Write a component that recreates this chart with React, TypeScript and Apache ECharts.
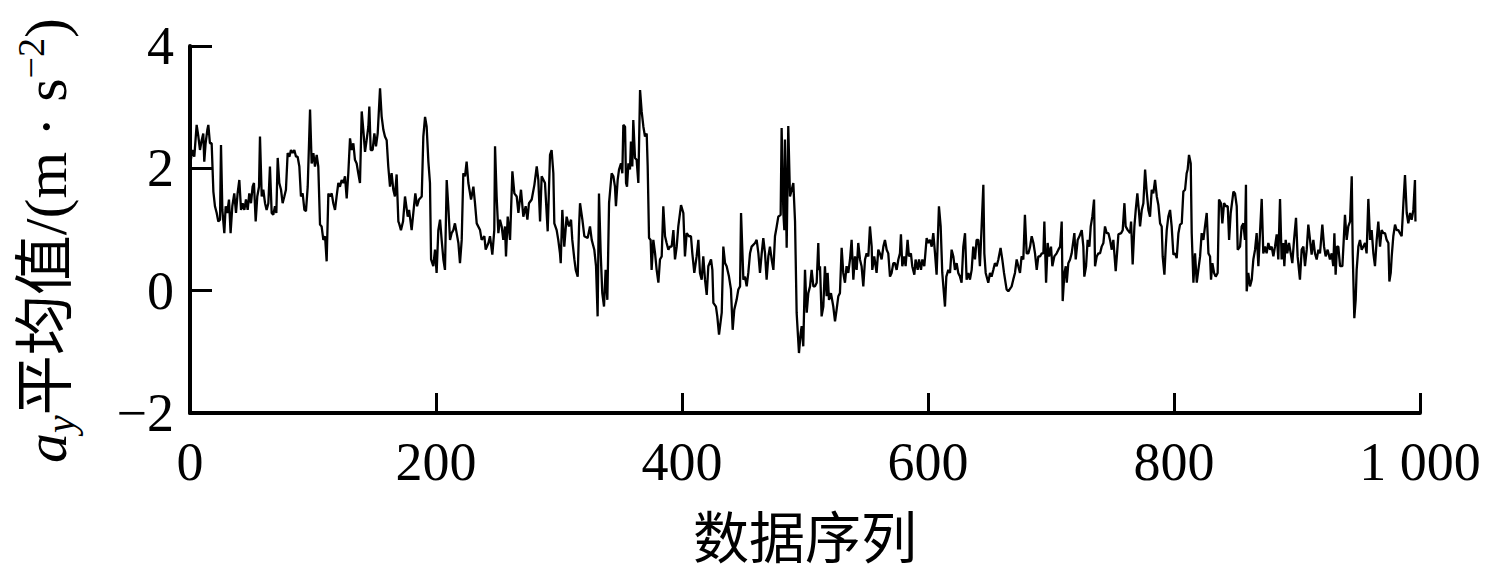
import React, { useEffect, useRef } from "react";
import * as echarts from "echarts";

// x-axis tick values and y-axis tick values
const xTicks = [0, 200, 400, 600, 800, 1000];
const yTicks = [-2, 0, 2, 4];

// a_y mean value: [sample index, value]
const ayMeanPart1: [number, number][] = [
  [0, 2.05], [1.9, 2.3], [3.5, 2.19], [5.4, 2.71], [6.8, 2.52], [8.1, 2.3], [9.5, 2.46], [10.8, 2.57],
  [11.6, 2.11], [12.7, 2.41], [14.1, 2.63], [14.9, 2.71], [16.2, 2.41], [17.6, 2.41], [19.0, 1.62],
  [20.3, 1.38], [21.7, 1.27], [23.0, 1.13], [24.4, 1.16], [25.2, 2.38], [26.3, 1.32], [27.9, 0.94],
  [29.0, 1.38], [30.3, 1.27], [31.7, 1.49], [33.0, 0.94], [34.4, 1.38], [36.0, 1.59], [37.4, 1.27],
  [38.7, 1.59], [40.1, 1.81], [41.5, 1.32], [42.8, 1.43], [44.2, 1.32], [45.5, 1.49], [46.9, 1.32],
  [48.2, 1.59], [49.6, 1.43], [50.9, 1.7], [52.0, 1.76], [53.4, 1.13], [54.7, 1.54], [56.1, 1.7],
  [56.9, 2.52], [58.3, 1.54], [59.6, 1.65], [61.0, 1.43], [62.3, 1.32], [63.7, 1.43], [65.0, 2.03],
  [66.4, 1.27], [67.7, 1.24], [69.1, 1.38], [70.2, 1.27], [71.3, 2.17], [72.6, 1.76], [74.0, 1.65],
  [75.3, 1.43], [76.7, 1.54], [78.0, 1.65], [79.4, 2.25], [80.8, 2.19], [82.1, 2.3], [83.5, 2.25],
  [84.8, 2.3], [86.2, 2.19], [87.5, 2.19], [88.9, 2.03], [90.2, 1.54], [91.6, 1.59], [93.0, 1.32],
  [94.3, 1.3], [95.7, 1.7], [97.6, 2.96], [98.9, 2.08], [100.3, 2.25], [101.6, 2.03], [103.0, 2.22],
  [104.3, 2.03], [105.7, 1.08], [107.0, 1.05], [108.4, 0.83], [109.8, 0.89], [111.1, 0.48], [112.5, 1.59],
  [113.8, 1.54], [115.2, 1.59], [116.5, 1.43], [117.9, 1.32], [119.2, 1.54], [120.6, 1.76], [121.9, 1.7],
  [123.3, 1.81], [124.7, 1.76], [126.0, 1.87], [127.4, 1.51], [128.7, 1.92], [130.1, 2.49], [131.4, 2.3],
  [132.8, 2.41], [134.1, 2.14], [135.5, 2.08], [136.8, 1.92], [138.2, 1.76], [139.6, 2.93], [140.9, 2.63],
  [142.3, 2.27], [143.6, 2.46], [145.0, 2.68], [145.8, 3.01], [146.9, 2.3], [148.5, 2.3], [149.9, 2.57],
  [151.2, 2.36], [152.6, 2.57], [154.5, 3.31], [155.8, 2.85], [157.2, 2.63], [158.5, 2.52], [159.9, 2.46],
  [161.2, 2.03], [162.6, 1.7], [163.9, 1.92], [165.3, 1.65], [166.6, 1.54], [168.0, 1.9], [169.4, 1.13],
];

const ayMeanPart2: [number, number][] = [
  [170.0, 1.1], [171.5, 0.99], [173.2, 1.13], [174.8, 1.54], [177.0, 1.21], [178.1, 1.32], [180.2, 0.99],
  [182.1, 1.38], [183.2, 1.59], [184.6, 1.38], [186.2, 1.49], [188.4, 1.54], [189.7, 2.52], [191.1, 2.84],
  [192.4, 2.68], [193.8, 2.11], [195.1, 1.76], [196.0, 0.51], [197.8, 0.4], [199.2, 0.67], [200.5, 0.29],
  [201.9, 0.99], [203.3, 1.16], [204.6, 0.83], [206.0, 0.51], [207.3, 0.34], [208.7, 1.81], [210.0, 1.38],
  [211.4, 0.83], [212.7, 0.94], [214.1, 0.99], [215.4, 1.1], [216.8, 0.94], [218.2, 0.78], [219.5, 0.45],
  [220.9, 0.83], [222.2, 1.92], [223.6, 1.87], [224.9, 2.11], [226.3, 1.76], [228.5, 1.49], [230.4, 1.7],
  [231.7, 1.43], [233.1, 1.1], [235.8, 0.99], [237.1, 0.83], [239.3, 0.89], [240.4, 0.67], [242.6, 0.78],
  [243.9, 0.89], [245.8, 0.59], [247.4, 0.99], [248.0, 2.36], [249.3, 1.54], [250.7, 0.94], [252.0, 1.16],
  [253.4, 1.05], [254.7, 0.83], [256.1, 1.05], [256.9, 0.56], [258.3, 1.21], [260.2, 0.83], [262.1, 1.95],
  [263.7, 1.59], [265.6, 1.54], [267.0, 1.27], [269.1, 1.65], [271.0, 1.21], [272.9, 1.38], [274.3, 1.16],
  [275.6, 1.43], [277.8, 1.49], [280.0, 1.73], [281.9, 2.03], [283.2, 1.81], [284.6, 1.13], [285.9, 1.87],
  [288.6, 1.76], [290.8, 0.97], [291.9, 1.7], [292.7, 2.22], [294.0, 2.3], [295.4, 1.92], [296.2, 1.1],
  [298.1, 0.99], [299.4, 0.83], [300.8, 0.61], [301.4, 0.45], [302.7, 1.32], [304.3, 0.72], [306.2, 1.21],
  [308.1, 1.05], [309.8, 1.16], [310.8, 0.83], [312.5, 0.51], [313.6, 0.34], [315.2, 0.23], [316.3, 1.05],
  [317.1, 1.43], [319.0, 1.16], [320.6, 0.89], [323.3, 0.86], [325.2, 1.05], [326.6, 0.83], [328.7, 0.67],
  [330.1, 0.4], [331.4, -0.42], [332.5, 1.59], [333.9, 0.61], [335.2, -0.04], [336.6, -0.26], [337.9, 0.34],
  [339.3, -0.15], [340.7, 1.43],
];

const ayMeanPart3: [number, number][] = [
  [342.8, 1.92], [344.2, 1.87], [345.5, 1.7], [346.3, 1.38], [347.7, 1.81], [348.8, 1.98], [350.4, 2.08],
  [351.5, 1.92], [352.3, 2.71], [353.7, 2.68], [354.5, 1.76], [355.3, 1.7], [356.4, 2.08], [357.7, 1.98],
  [358.5, 2.44], [359.6, 2.03], [360.4, 2.79], [361.8, 2.17], [363.1, 2.14], [364.5, 1.76], [365.9, 3.28],
  [367.2, 2.93], [368.6, 2.68], [369.9, 2.52], [371.3, 2.57], [372.1, 2.03], [373.2, 0.86], [374.5, 0.83],
  [375.3, 0.34], [376.7, 0.83], [378.1, 0.61], [379.4, 0.34], [380.8, 0.13], [382.1, 0.51], [383.5, 0.56],
  [384.8, 1.38], [386.2, 0.89], [387.5, 0.78], [388.9, 0.67], [390.2, 0.72], [391.6, 0.72], [393.0, 0.99],
  [394.3, 0.51], [395.7, 0.72], [397.0, 1.05], [399.2, 1.4], [401.1, 1.27], [402.4, 0.56], [403.8, 0.94],
  [405.7, 0.89], [407.3, 0.89], [408.4, 0.61], [410.0, 0.29], [411.9, 0.56], [413.3, 0.83], [414.6, 0.29],
  [416.0, 0.18], [417.3, 0.56], [418.7, 0.18], [420.1, -0.07], [421.4, 0.4], [423.6, 0.51], [424.7, 0.34],
  [425.5, -0.2], [427.6, -0.26], [428.7, -0.42], [430.1, -0.72], [432.3, -0.36], [433.6, 0.72], [435.0, 0.45],
  [436.3, 0.4], [438.2, 0.23], [439.8, 0.02], [441.2, -0.64], [442.5, -0.31], [444.4, -0.15], [445.8, 0.02],
  [447.2, 0.07], [448.0, 1.27], [449.9, 0.18], [451.2, 0.23], [452.6, 0.07], [453.9, 0.29], [455.3, 0.61],
  [456.6, 0.72], [459.4, 0.78], [460.7, 0.83], [462.1, 0.61], [463.4, 0.29], [464.8, 0.61], [466.1, 0.86],
  [467.5, 0.61], [468.8, 0.18], [470.2, 0.56], [471.5, 0.72], [472.9, 0.51], [474.3, 0.34], [475.6, 0.89],
  [477.0, 1.05], [478.3, 1.21], [480.2, 1.24], [481.0, 2.66], [482.4, 1.27], [483.2, 0.99], [483.7, 2.47],
  [485.1, 0.7], [486.4, 2.69], [487.8, 1.54], [489.2, 1.65], [490.5, 1.76], [491.9, 1.13], [493.2, -0.36],
  [495.1, -1.02], [496.5, -0.69], [497.3, -0.58], [498.6, -0.91], [500.0, 0.34], [501.4, -0.36], [502.7, -0.04],
  [504.1, 0.07], [505.4, 0.34], [506.8, 0.07], [508.1, 0.07], [509.5, 0.13], [510.8, 0.78],
];

const ayMeanPart4: [number, number][] = [
  [511.4, 0.34], [512.2, 0.4], [513.5, -0.42], [514.9, -0.26], [516.2, 0.4], [517.6, -0.09], [518.4, 0.29],
  [519.5, -0.15], [521.1, -0.04], [523.0, -0.26], [524.4, -0.5], [525.7, -0.31], [527.1, -0.09], [528.4, -0.04],
  [529.8, 0.7], [531.1, 0.29], [532.5, 0.13], [533.8, 0.4], [535.2, 0.29], [536.6, 0.51], [537.9, 0.83],
  [539.3, 0.18], [540.6, 0.56], [542.0, 0.34], [543.3, 0.78], [544.7, 0.51], [546.0, 0.4], [547.4, 0.07],
  [548.8, 0.51], [550.1, 0.61], [551.5, 0.56], [552.8, 1.05], [554.2, 0.72], [554.7, 0.34], [556.3, 0.56],
  [558.2, 0.29], [559.6, 0.67], [560.9, 0.61], [562.3, 0.51], [563.7, 0.72], [565.0, 0.83], [566.4, 0.67],
  [567.7, 0.61], [569.1, 0.23], [570.4, 0.29], [571.8, 0.45], [573.1, 0.45], [574.5, 0.34], [575.9, 0.51],
  [577.2, 0.61], [578.0, 0.92], [579.1, 0.4], [580.7, 0.56], [581.8, 0.4], [583.4, 0.83], [584.5, 0.56],
  [586.1, 0.61], [587.2, 0.4], [588.9, 0.26], [589.9, 0.51], [591.6, 0.34], [592.7, 0.51], [594.3, 0.34],
  [595.4, 0.51], [597.0, 0.4], [598.9, 0.86], [600.2, 0.78], [601.6, 0.83], [603.0, 0.72], [604.3, 0.94],
  [605.7, 0.61], [607.0, 0.26], [608.9, 1.38], [610.3, 1.05], [611.6, 0.29], [613.8, -0.26], [614.9, 0.23],
  [616.5, 0.34], [617.9, 0.29], [619.2, 0.67], [620.6, 0.56], [621.9, 0.34], [623.3, 0.45], [624.6, 0.29],
  [626.0, 0.23], [627.3, 0.13], [628.7, 0.72], [630.1, 0.94], [631.4, 0.18], [632.8, 0.29], [634.1, 0.18],
  [635.5, 0.34], [636.8, 0.72], [638.2, 0.51], [639.5, 0.83], [640.9, 0.83], [642.2, 0.4], [643.6, 1.05],
  [645.0, 1.73], [645.8, 0.61], [646.9, 0.29], [649.0, 0.13], [650.4, 0.29], [651.7, 0.23], [653.1, 0.34],
  [654.4, 0.45], [655.8, 0.4], [657.2, 0.51], [659.0, 0.7], [660.4, 0.51], [661.8, 0.29], [663.9, 0.02],
  [665.3, -0.01], [668.0, 0.07], [669.3, 0.18], [670.7, 0.29], [672.1, 0.51], [673.4, 0.4], [674.8, 0.29],
  [676.1, 0.56], [677.5, 0.51], [678.8, 1.24], [680.2, 0.61],
];

const ayMeanPart5: [number, number][] = [
  [681.6, 0.61], [683.0, 0.72], [684.3, 0.89], [685.7, 0.78], [687.0, 0.61], [688.4, 0.34], [689.7, 0.56],
  [691.1, 0.56], [692.5, 0.61], [693.8, 0.61], [694.6, 1.13], [696.0, 0.13], [697.3, 0.78], [698.4, 0.56],
  [700.0, 0.72], [701.1, 0.4], [702.7, 0.56], [704.6, 0.61], [706.0, 0.67], [707.4, 0.72], [708.7, 1.13],
  [709.5, -0.17], [710.9, 0.29], [712.0, 0.4], [712.8, 0.13], [714.1, 0.45], [715.5, 0.51], [716.8, 0.61],
  [719.0, 0.94], [720.1, 0.51], [721.7, 0.83], [723.1, 0.89], [725.0, 0.99], [726.3, 0.72], [727.1, 0.23],
  [728.5, 0.4], [729.8, 0.83], [731.2, 0.72], [732.3, 1.05], [733.6, 1.21], [735.0, 1.49], [735.8, 0.4],
  [737.2, 0.56], [738.5, 0.61], [739.9, 0.61], [741.2, 0.72], [742.6, 0.78], [743.9, 1.05], [745.3, 0.94],
  [746.7, 0.94], [748.0, 0.83], [749.4, 0.67], [750.7, 0.83], [752.6, 0.32], [753.7, 0.61], [754.8, 0.92],
  [757.0, 0.94], [758.3, 0.99], [759.7, 1.43], [760.7, 1.05], [762.4, 0.99], [764.3, 0.94], [765.1, 1.13],
  [766.4, 0.43], [767.8, 1.05], [768.9, 1.32], [770.2, 1.59], [771.6, 1.27], [772.4, 1.05], [773.8, 1.32],
  [775.1, 1.43], [776.5, 1.98], [777.8, 1.62], [779.2, 1.32], [780.5, 1.21], [781.9, 1.65], [783.2, 1.59],
  [784.6, 1.81], [786.0, 1.54], [787.3, 1.4], [788.7, 1.1], [790.0, 1.05], [790.8, 0.56], [792.2, 0.26],
  [793.3, 0.72], [794.1, 0.99], [795.4, 1.21], [796.8, 1.32], [798.1, 1.05], [799.5, 0.59], [800.9, 0.61],
  [802.2, 0.53], [803.6, 0.94], [804.9, 1.08], [806.3, 1.1], [807.6, 1.62], [809.0, 1.65], [810.3, 1.92],
  [811.1, 1.98], [812.2, 2.22], [813.6, 2.08], [814.4, 0.94], [815.8, 0.13], [817.1, 0.61], [818.5, 0.13],
  [819.8, 0.34], [821.2, 0.56], [822.5, 0.94], [823.9, 0.83], [825.2, 1.05], [826.6, 1.27], [828.0, 0.61],
  [829.3, 0.56], [830.1, 0.18], [831.2, 0.45], [832.6, 0.29], [833.9, 0.23], [835.5, 0.29], [836.6, 1.49],
  [838.2, 1.43], [839.3, 1.1], [840.7, 1.43], [842.3, 1.38], [843.7, 1.38], [844.8, 0.83], [846.1, 1.27],
  [847.5, 1.49], [848.3, 1.62], [849.6, 1.59], [851.0, 1.38], [851.8, 0.67],
];

const ayMeanPart6: [number, number][] = [
  [853.7, 0.72], [855.0, 1.05], [856.4, 1.1], [857.7, 0.83], [858.5, 1.73], [859.1, -0.01], [860.4, 0.29],
  [861.8, 0.07], [863.2, 0.18], [864.5, 0.51], [865.9, 0.67], [867.2, 0.94], [868.6, 0.4], [869.9, 0.94],
  [871.3, 1.5], [872.6, 0.61], [874.0, 0.72], [875.3, 0.61], [876.7, 0.78], [878.1, 0.67], [879.4, 0.72],
  [880.8, 0.56], [882.1, 0.72], [883.5, 0.92], [884.8, 0.51], [886.2, 1.5], [887.5, 0.51], [888.9, 0.78],
  [889.7, 0.4], [890.8, 0.83], [892.1, 0.61], [893.5, 0.78], [894.9, 0.61], [896.2, 0.45], [897.6, 0.83],
  [899.2, 1.19], [900.5, 0.56], [902.4, 0.18], [903.8, 0.67], [905.2, 0.72], [906.5, 0.4], [907.9, 0.67],
  [909.2, 1.08], [910.6, 0.83], [911.9, 0.59], [913.3, 0.83], [914.6, 0.61], [916.0, 0.51], [917.4, 0.67],
  [918.7, 0.61], [920.6, 1.08], [922.0, 0.72], [923.3, 0.56], [924.9, 0.67], [926.8, 0.51], [928.2, 0.61],
  [929.5, 0.4], [930.4, 0.94], [931.4, 0.26], [932.5, 0.72], [933.6, 0.72], [935.0, 0.4], [936.9, 0.4],
  [938.0, 0.83], [939.0, 1.24], [940.4, 0.83], [941.7, 1.05], [943.1, 1.13], [944.5, 1.87], [945.3, 0.61],
  [946.6, -0.45], [947.7, -0.15], [948.5, 0.34], [949.9, 0.72], [951.2, 0.83], [952.6, 0.67], [953.9, 0.72],
  [955.3, 0.78], [956.6, 0.61], [958.0, 1.5], [959.4, 0.83], [960.7, 0.99], [962.1, 0.61], [963.4, 0.4],
  [964.8, 0.83], [966.1, 1.13], [967.5, 0.72], [968.8, 0.99], [970.2, 0.94], [971.6, 0.94], [972.9, 0.83],
  [974.3, 0.78], [975.1, 0.15], [976.2, 0.29], [977.0, 0.56], [978.3, 0.89], [979.7, 1.08], [981.0, 0.99],
  [982.4, 0.99], [983.7, 0.94], [985.1, 0.89], [986.5, 1.43], [987.8, 1.89], [989.2, 1.27], [990.5, 1.1],
  [991.9, 1.27], [993.2, 1.16], [994.6, 1.32], [995.9, 1.81], [996.3, 1.13],
];

const SERIF = '"Liberation Serif", "Times New Roman", "Noto Sans CJK SC", serif';

export default function App() {
  const ref = useRef<HTMLDivElement>(null);

  useEffect(() => {
    if (!ref.current) return;
    const chart = echarts.init(ref.current, null, { renderer: "svg" });
    const data = [
      ...ayMeanPart1,
      ...ayMeanPart2,
      ...ayMeanPart3,
      ...ayMeanPart4,
      ...ayMeanPart5,
      ...ayMeanPart6,
    ];
    chart.setOption({
      animation: false,
      backgroundColor: "#fff",
      grid: { left: 190, right: 65, top: 46, bottom: 172, outerBoundsMode: "none", containLabel: false },
      xAxis: {
        type: "value",
        min: xTicks[0],
        max: xTicks[xTicks.length - 1],
        interval: 200,
        splitLine: { show: false },
        axisLine: { show: true, onZero: false, lineStyle: { color: "#000", width: 4 } },
        axisTick: { show: true, inside: true, length: 20, lineStyle: { color: "#000", width: 3 } },
        axisLabel: {
          color: "#000",
          fontSize: 54,
          fontFamily: SERIF,
          margin: 22,
          formatter: (v: number) => (v >= 1000 ? "1 000" : String(v)),
        },
        name: "数据序列",
        nameLocation: "middle",
        nameGap: 98,
        nameTextStyle: { color: "#000", fontSize: 56, fontFamily: SERIF },
      },
      yAxis: {
        type: "value",
        min: yTicks[0],
        max: yTicks[yTicks.length - 1],
        interval: 2,
        splitLine: { show: false },
        axisLine: { show: true, onZero: false, lineStyle: { color: "#000", width: 4 } },
        axisTick: { show: true, inside: true, length: 22, lineStyle: { color: "#000", width: 3 } },
        axisLabel: {
          color: "#000",
          fontSize: 54,
          fontFamily: SERIF,
          margin: 16,
          formatter: (v: number) => (v < 0 ? "\u2212" + Math.abs(v) : String(v)),
        },
        name: "{it|a}{sub|y}平均值/(m · s{sup|\u22122})",
        nameLocation: "middle",
        nameGap: 110,
        nameRotate: 90,
        nameTextStyle: {
          color: "#000",
          fontSize: 60,
          fontFamily: SERIF,
          lineHeight: 68,
          padding: [0, 22, 0, 0],
          rich: {
            it: { fontStyle: "italic", fontSize: 60, fontFamily: SERIF, color: "#000", lineHeight: 68 },
            sub: {
              fontStyle: "italic",
              fontSize: 40,
              fontFamily: SERIF,
              color: "#000",
              verticalAlign: "bottom",
              lineHeight: 68,
            },
            sup: { fontSize: 38, fontFamily: SERIF, color: "#000", verticalAlign: "top", lineHeight: 68 },
          },
        },
      },
      series: [
        {
          type: "line",
          data,
          showSymbol: false,
          symbol: "none",
          lineStyle: { color: "#000", width: 2.3 },
          silent: true,
        },
      ],
    });
    return () => chart.dispose();
  }, []);

  return (
    <div
      ref={ref}
      style={{ position: "fixed", left: 0, top: 0, width: 1485, height: 585, background: "#fff" }}
    />
  );
}
